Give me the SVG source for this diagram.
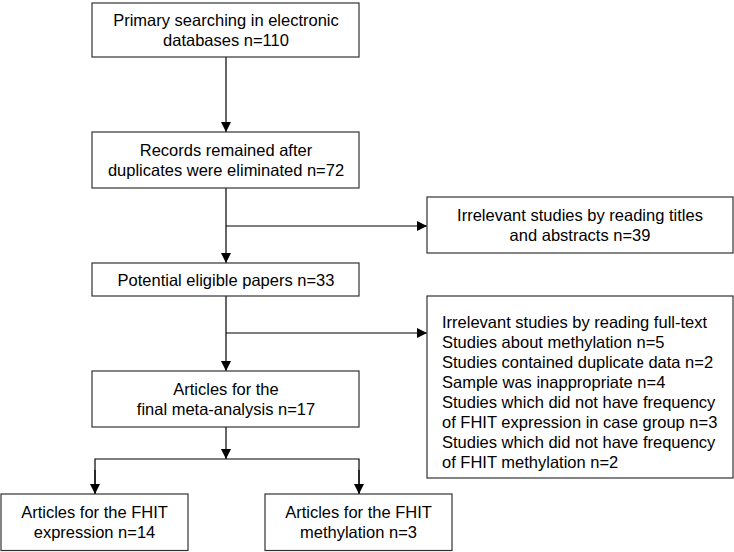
<svg xmlns="http://www.w3.org/2000/svg" width="734" height="552" viewBox="0 0 734 552">
<defs>
<marker id="ah" viewBox="0 0 10 10" refX="10" refY="5" markerWidth="10" markerHeight="10" markerUnits="userSpaceOnUse" orient="auto">
<path d="M0,0 L10,5 L0,10 Z" fill="#000"/>
</marker>
</defs>
<style>
.box{fill:#fff;stroke:#333;stroke-width:1.2}
.t{font-family:"Liberation Sans",Arial,sans-serif;font-size:16.5px;fill:#000}
.c{text-anchor:middle}
.ln{fill:none;stroke:#000;stroke-width:1.2}
</style>
<rect width="734" height="552" fill="#fff"/>
<g id="connectors">
<line class="ln" x1="226" y1="57" x2="226" y2="132" marker-end="url(#ah)"/>
<line class="ln" x1="226" y1="188" x2="226" y2="263" marker-end="url(#ah)"/>
<line class="ln" x1="226" y1="226" x2="427" y2="226" marker-end="url(#ah)"/>
<line class="ln" x1="226" y1="296" x2="226" y2="371" marker-end="url(#ah)"/>
<line class="ln" x1="226" y1="333" x2="427" y2="333" marker-end="url(#ah)"/>
<line class="ln" x1="226" y1="427" x2="226" y2="459" marker-end="url(#ah)"/>
<polyline class="ln" points="95,494 95,459 359,459 359,494"/>
<line class="ln" x1="95" y1="470" x2="95" y2="494" marker-end="url(#ah)"/>
<line class="ln" x1="359" y1="470" x2="359" y2="494" marker-end="url(#ah)"/>
</g>
<g id="n1">
<rect class="box" x="92" y="3" width="267" height="54"/>
<text class="t c" x="226" y="25.5">Primary searching in electronic</text>
<text class="t c" x="226" y="45.5">databases n=110</text>
</g>
<g id="n2">
<rect class="box" x="92" y="132" width="267" height="56"/>
<text class="t c" x="226" y="156">Records remained after</text>
<text class="t c" x="226" y="176">duplicates were eliminated n=72</text>
</g>
<g id="n3">
<rect class="box" x="427" y="197" width="306" height="56"/>
<text class="t c" x="580" y="221">Irrelevant studies by reading titles</text>
<text class="t c" x="580" y="241">and abstracts n=39</text>
</g>
<g id="n4">
<rect class="box" x="92" y="263" width="267" height="33"/>
<text class="t c" x="226" y="285.5">Potential eligible papers n=33</text>
</g>
<g id="n5">
<rect class="box" x="427" y="296" width="306" height="182"/>
<text class="t" x="442" y="328">Irrelevant studies by reading full-text</text>
<text class="t" x="442" y="348">Studies about methylation n=5</text>
<text class="t" x="442" y="368">Studies contained duplicate data n=2</text>
<text class="t" x="442" y="388">Sample was inappropriate n=4</text>
<text class="t" x="442" y="408">Studies which did not have frequency</text>
<text class="t" x="442" y="428">of FHIT expression in case group n=3</text>
<text class="t" x="442" y="448">Studies which did not have frequency</text>
<text class="t" x="442" y="468">of FHIT methylation n=2</text>
</g>
<g id="n6">
<rect class="box" x="92" y="371" width="267" height="56"/>
<text class="t c" x="226" y="395">Articles for the</text>
<text class="t c" x="226" y="415">final meta-analysis n=17</text>
</g>
<g id="n7">
<rect class="box" x="1" y="494" width="187" height="56.5"/>
<text class="t c" x="94.5" y="518">Articles for the FHIT</text>
<text class="t c" x="94.5" y="538">expression n=14</text>
</g>
<g id="n8">
<rect class="box" x="265" y="494" width="187" height="56.5"/>
<text class="t c" x="358.5" y="518">Articles for the FHIT</text>
<text class="t c" x="358.5" y="538">methylation n=3</text>
</g>
</svg>
